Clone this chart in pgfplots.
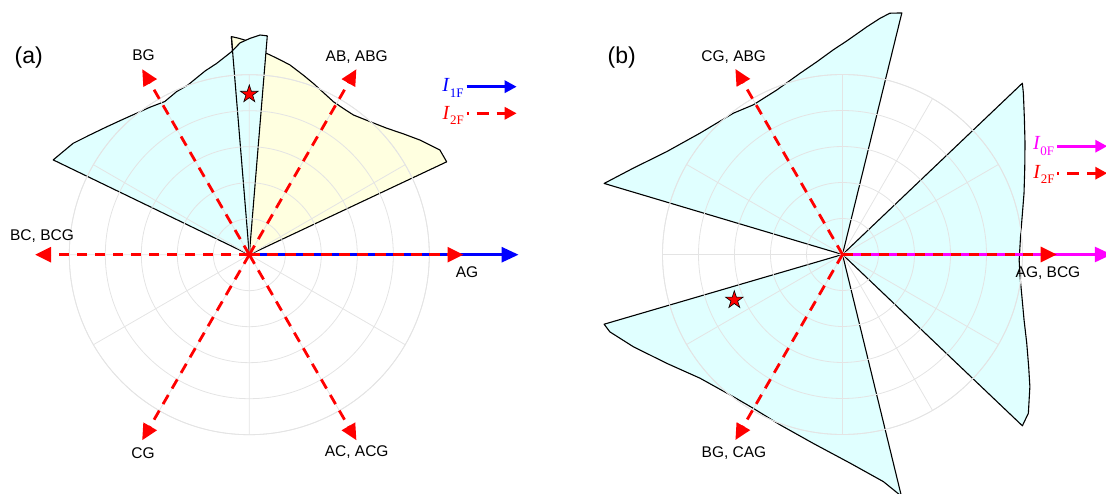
\documentclass[border=0pt]{standalone}
\usepackage{pgfplots}
\pgfplotsset{compat=1.18}
\usepgfplotslibrary{polar}
\usetikzlibrary{arrows.meta}
\usepackage{fontspec}
\setmainfont{Liberation Sans}
\newfontfamily\legendserif{Liberation Serif}

\definecolor{lobecyan}{RGB}{224,255,255}
\definecolor{lobeyellow}{RGB}{255,255,224}
\definecolor{gridgray}{RGB}{228,228,228}
\definecolor{zeroseq}{RGB}{255,0,255}
\definecolor{posseq}{RGB}{0,0,255}
\definecolor{negseq}{RGB}{255,0,0}

% filled five-pointed star marker
\pgfdeclareplotmark{fstar}{%
  \pgfpathmoveto{\pgfpointpolar{90}{\pgfplotmarksize}}%
  \pgfpathlineto{\pgfpointpolar{126}{0.382\pgfplotmarksize}}%
  \pgfpathlineto{\pgfpointpolar{162}{\pgfplotmarksize}}%
  \pgfpathlineto{\pgfpointpolar{198}{0.382\pgfplotmarksize}}%
  \pgfpathlineto{\pgfpointpolar{234}{\pgfplotmarksize}}%
  \pgfpathlineto{\pgfpointpolar{270}{0.382\pgfplotmarksize}}%
  \pgfpathlineto{\pgfpointpolar{306}{\pgfplotmarksize}}%
  \pgfpathlineto{\pgfpointpolar{342}{0.382\pgfplotmarksize}}%
  \pgfpathlineto{\pgfpointpolar{18}{\pgfplotmarksize}}%
  \pgfpathlineto{\pgfpointpolar{54}{0.382\pgfplotmarksize}}%
  \pgfpathclose
  \pgfusepathqfillstroke
}

\pgfplotsset{
  phasorbase/.style={
    scale only axis, width=360pt, height=360pt,
    xmin=0, xmax=360, ymin=0, ymax=5, clip=false,
  },
  phasorgrid/.style={
    phasorbase,
    xtick={0,30,...,330}, ytick={1,2,3,4,5},
    xticklabels={}, yticklabels={},
    major tick length=0pt,
    grid=major,
    major grid style={draw=gridgray, line width=0.8pt},
    axis line style={draw=gridgray, line width=0.8pt},
    axis on top,
  },
  phasorover/.style={
    phasorbase,
    xtick=\empty, ytick=\empty,
    axis line style={draw=none},
  },
  lobe/.style={fill=#1, draw=black, line width=1.1pt, line join=round},
  faultdir/.style={negseq, line width=2.8pt, dash pattern=on 10.5pt off 7.5pt,
    -{Triangle[length=16pt,width=15pt]}},
  seqdir/.style={#1, line width=2.8pt, -{Triangle[length=17pt,width=15pt]}},
  faultstar/.style={only marks, mark=fstar, mark size=9.3pt,
    mark options={fill=negseq, draw=black, line width=0.6pt, solid}},
}

\newcommand{\dirlabel}[1]{\fontsize{15.5}{18}\selectfont #1}
\newcommand{\curlabel}[1]{{\legendserif\fontsize{20}{20}\selectfont\textit{I}\raisebox{-5.6pt}{\fontsize{13}{13}\selectfont #1}}}

\begin{document}
\begin{tikzpicture}[x=1pt,y=1pt]
\useasboundingbox (0,0) rectangle (1106,493);
\clip (0,0) rectangle (1106,493);

% ---------------- panel (a): regions ----------------
\begin{polaraxis}[phasorgrid, at={(249.3pt,238.3pt)}, anchor=center]
\addplot[lobe=lobeyellow] coordinates {
  (25.2,0) (25.2,6.06) (28.8,6.04) (33.9,5.71) (38.1,5.44) (42.6,5.19)
  (47.8,4.99) (53.3,4.84) (57.3,4.83) (61.2,4.85) (69.5,5.08) (73.3,5.21)
  (77.9,5.39) (81.0,5.48) (84.1,5.58) (85.3,5.62) (88.0,5.80) (91.1,5.96)
  (92.8,6.02) (94.7,6.08) (94.7,0)
};
\addplot[lobe=lobecyan] coordinates {
  (85.3,0) (85.3,6.10) (87.2,6.11) (89.8,6.01) (92.5,5.89) (95.0,5.66)
  (99.7,5.39) (103.5,5.25) (110.0,5.01) (114.0,4.96) (118.9,4.86)
  (124.0,4.94) (127.4,5.00) (132.9,5.14) (138.1,5.32) (143.1,5.54)
  (147.7,5.79) (151.0,5.91) (154.2,6.05) (154.2,0)
};
\addplot[draw=black, line width=1.1pt] coordinates {(94.7,0) (94.7,6.08)};
\end{polaraxis}

% ---------------- panel (a): directions ----------------
\begin{polaraxis}[phasorover, at={(249.3pt,238.3pt)}, anchor=center]
\addplot[seqdir=posseq] coordinates {(0,0) (0,7.48)};
\addplot[faultdir] coordinates {(0,0) (0,5.95)};
\addplot[faultdir] coordinates {(60,0) (60,5.95)};
\addplot[faultdir] coordinates {(120,0) (120,5.95)};
\addplot[faultdir] coordinates {(180,0) (180,5.95)};
\addplot[faultdir] coordinates {(240,0) (240,5.95)};
\addplot[faultdir] coordinates {(300,0) (300,5.95)};
\addplot[faultstar] coordinates {(90,4.46)};
\end{polaraxis}

% ---------------- panel (b): regions ----------------
\begin{polaraxis}[phasorgrid, at={(842.5pt,238.5pt)}, anchor=center]
\addplot[lobe=lobecyan] coordinates {
  (-43.6,0) (-43.6,6.90) (-40.5,6.79) (-35.2,6.37) (-31.1,6.04) (-25.7,5.68)
  (-19.8,5.36) (-12.2,5.09) (-7.1,4.97) (-1.8,4.91) (5.7,4.97) (11.9,5.10)
  (18.6,5.32) (25.3,5.60) (31.4,5.94) (36.8,6.31) (41.7,6.73) (43.6,6.90)
  (43.6,0)
};
\addplot[lobe=lobecyan] coordinates {
  (76.2,0) (76.2,6.91) (78.9,6.83) (81.0,6.64) (83.9,6.36) (85.5,6.21)
  (88.9,5.93) (92.6,5.69) (97.6,5.40) (103.2,5.17) (111.8,4.92) (120.8,4.84)
  (127.7,4.96) (139.6,5.20) (149.7,5.66) (157.6,6.29) (161.0,6.63)
  (163.4,6.91) (163.4,0)
};
\addplot[lobe=lobecyan] coordinates {
  (196.3,0) (196.3,6.90) (198.4,6.81) (203.8,6.35) (211.8,5.74) (221.0,5.24)
  (232.5,4.98) (239.9,4.94) (249.9,5.04) (261.2,5.31) (272.1,5.80)
  (280.2,6.41) (283.7,6.91) (283.7,0)
};
\end{polaraxis}

% ---------------- panel (b): directions ----------------
\begin{polaraxis}[phasorover, at={(842.5pt,238.5pt)}, anchor=center]
\addplot[seqdir=zeroseq] coordinates {(0,0) (0,7.48)};
\addplot[faultdir] coordinates {(0,0) (0,5.95)};
\addplot[faultdir] coordinates {(120,0) (120,5.95)};
\addplot[faultdir] coordinates {(240,0) (240,5.95)};
\addplot[faultstar] coordinates {(202.8,3.26)};
\end{polaraxis}

% ---------------- labels ----------------
\node[anchor=base, inner sep=0] at (28.8,429.5) {\fontsize{23}{26}\selectfont (a)};
\node[anchor=base, inner sep=0] at (143.5,432.4) {\dirlabel{BG}};
\node[anchor=base, inner sep=0] at (356.7,431.3) {\dirlabel{AB, ABG}};
\node[anchor=base, inner sep=0] at (42,252.4) {\dirlabel{BC, BCG}};
\node[anchor=base, inner sep=0] at (467,215) {\dirlabel{AG}};
\node[anchor=base, inner sep=0] at (143,34.7) {\dirlabel{CG}};
\node[anchor=base, inner sep=0] at (356.7,36.3) {\dirlabel{AC, ACG}};

\node[anchor=base, inner sep=0] at (621.7,429.5) {\fontsize{23}{26}\selectfont (b)};
\node[anchor=base, inner sep=0] at (733.7,431.3) {\dirlabel{CG, ABG}};
\node[anchor=base, inner sep=0] at (734,35.7) {\dirlabel{BG, CAG}};
\node[anchor=base, inner sep=0] at (1048,215) {\dirlabel{AG, BCG}};

% ---------------- legends ----------------
\node[anchor=base west, inner sep=0, text=posseq] at (442.2,401.3) {\curlabel{1F}};
\draw[posseq, line width=3pt, -{Triangle[length=12pt,width=12pt]}] (466.7,406.3) -- (516.7,406.3);
\node[anchor=base west, inner sep=0, text=negseq] at (442.5,373.7) {\curlabel{2F}};
\draw[negseq, line width=3pt, dash pattern=on 12pt off 8pt, dash phase=10pt,
  -{Triangle[length=12pt,width=12pt]}] (466.7,379.7) -- (516.7,379.7);

\node[anchor=base west, inner sep=0, text=zeroseq] at (1032.8,343) {\curlabel{0F}};
\draw[zeroseq, line width=3pt, -{Triangle[length=12pt,width=12pt]}] (1057.3,346.8) -- (1107.3,346.8);
\node[anchor=base west, inner sep=0, text=negseq] at (1033.1,314.7) {\curlabel{2F}};
\draw[negseq, line width=3pt, dash pattern=on 12pt off 8pt, dash phase=10pt,
  -{Triangle[length=12pt,width=12pt]}] (1057.3,319.8) -- (1107.3,319.8);
\end{tikzpicture}
\end{document}
